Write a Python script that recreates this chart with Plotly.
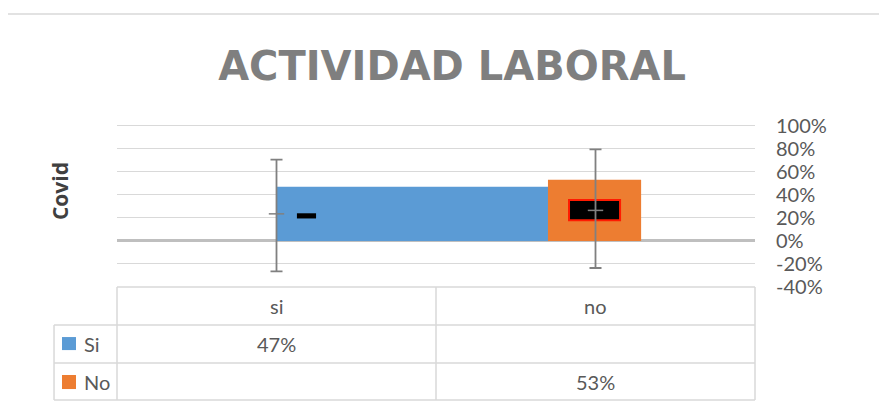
import plotly.graph_objects as go

# Data
categories = ["si", "no"]
series_names = ["Si", "No"]
si_values = [47, None]
no_values = [None, 53]
series_colors = ["#5b9bd5", "#ed7d31"]

# error bars (centre, up, down), in %
err_center = [23.5, 26.5]
err_plus = [47, 53]
err_minus = [50, 50]

# rendering glitches visible inside the bars (base, length), in %
glitch_base = [19.5, 18]
glitch_len = [4.5, 17.5]

tick_vals = [-40, -20, 0, 20, 40, 60, 80, 100]
tick_text = [f"{v}%" for v in tick_vals]

grey_text = "#595959"
grid_col = "#d9d9d9"
FONT = "Lato, 'Open Sans', sans-serif"

xs = list(range(len(categories)))

fig = go.Figure()

# Si bar: starts at category centre, extends to the 'no' bar
fig.add_trace(go.Bar(
    x=xs, y=si_values, name=series_names[0], offset=0, width=0.853,
    marker=dict(color=series_colors[0], line=dict(width=0)), showlegend=False
))
fig.add_trace(go.Bar(
    x=xs, y=no_values, name=series_names[1], offset=-0.149, width=0.292,
    marker=dict(color=series_colors[1], line=dict(width=0)), showlegend=False
))

# glitch marks
fig.add_trace(go.Bar(
    x=[xs[0]], y=[glitch_len[0]], base=[glitch_base[0]], offset=0.064, width=0.06,
    marker=dict(color="black", line=dict(width=0)), showlegend=False, hoverinfo="skip"
))
fig.add_trace(go.Bar(
    x=[xs[1]], y=[glitch_len[1]], base=[glitch_base[1]], offset=-0.083, width=0.16,
    marker=dict(color="black", line=dict(color="#ff1a00", width=2)), showlegend=False, hoverinfo="skip"
))

# error bars
fig.add_trace(go.Scatter(
    x=xs, y=err_center, mode="markers", showlegend=False,
    marker=dict(symbol="line-ew", size=11, color="#808080", line=dict(color="#808080", width=1.5)),
    error_y=dict(type="data", symmetric=False, array=err_plus, arrayminus=err_minus,
                 color="#808080", thickness=1.8, width=6)
))

shapes = []
# chart area border
shapes.append(dict(type="rect", xref="paper", yref="paper", x0=-0.1755, x1=1.5, y0=-1.0, y1=1.675,
                   line=dict(color=grid_col, width=1.5), layer="below"))

# data table grid (paper coords: plot area spans 0..1 horizontally)
left_col = -0.0987
row_lines = [0, -0.233, -0.466, -0.693]
for i, yv in enumerate(row_lines):
    x0 = 0 if i == 0 else left_col
    shapes.append(dict(type="line", xref="paper", yref="paper", x0=x0, x1=1, y0=yv, y1=yv,
                       line=dict(color=grid_col, width=1.5)))
for xv in [0, 0.5, 1]:
    shapes.append(dict(type="line", xref="paper", yref="paper", x0=xv, x1=xv, y0=0, y1=row_lines[-1],
                       line=dict(color=grid_col, width=1.5)))
shapes.append(dict(type="line", xref="paper", yref="paper", x0=left_col, x1=left_col,
                   y0=row_lines[1], y1=row_lines[-1], line=dict(color=grid_col, width=1.5)))

# legend keys in the table
key_rows = [(-0.307, -0.387), (-0.540, -0.626)]
for (ya, yb), col in zip(key_rows, series_colors):
    shapes.append(dict(type="rect", xref="paper", yref="paper", x0=-0.0862, x1=-0.0643, y0=yb, y1=ya,
                       fillcolor=col, line=dict(width=0)))

annotations = []
header_y = -0.1166
row_y = [-0.350, -0.580]
for x, c in zip(xs, categories):
    annotations.append(dict(x=x, y=header_y, xref="x", yref="paper", text=c, showarrow=False,
                            xanchor="center", yanchor="middle",
                            font=dict(family=FONT, size=20, color=grey_text)))
for r, (name, vals) in enumerate(zip(series_names, [si_values, no_values])):
    annotations.append(dict(x=-0.0549, y=row_y[r], xref="paper", yref="paper", text=name,
                            showarrow=False, xanchor="left", yanchor="middle",
                            font=dict(family=FONT, size=20, color=grey_text)))
    for x, v in zip(xs, vals):
        if v is not None:
            annotations.append(dict(x=x, y=row_y[r], xref="x", yref="paper", text=f"{v}%",
                                    showarrow=False, xanchor="center", yanchor="middle",
                                    font=dict(family=FONT, size=20, color=grey_text)))

# y axis title on the left
annotations.append(dict(x=-0.0893, y=0.589, xref="paper", yref="paper", text="<b>Covid</b>",
                        textangle=-90, showarrow=False, xanchor="center", yanchor="middle",
                        font=dict(family="Open Sans", size=21, color="#404040")))

# the page body has an 8px margin, so the plot area is shifted back by 8px
fig.update_layout(
    width=887, height=406,
    margin=dict(l=109, r=140, t=116, b=127),
    paper_bgcolor="white", plot_bgcolor="white",
    barmode="overlay",
    title=dict(text="<b>ACTIVIDAD LABORAL</b>", xref="container", yref="container",
               x=0.5006, y=0.857, xanchor="center", yanchor="middle",
               font=dict(family="DejaVu Sans", size=40, color="#7f7f7f")),
    shapes=shapes, annotations=annotations,
    showlegend=False,
)
fig.update_xaxes(range=[-0.5, 1.5], showticklabels=False, showgrid=False, zeroline=False,
                 showline=False, fixedrange=True)
fig.update_yaxes(range=[-40, 101.5], side="right", tickvals=tick_vals, ticktext=tick_text,
                 showgrid=True, gridcolor=grid_col, gridwidth=1.3,
                 zeroline=True, zerolinecolor="#bfbfbf", zerolinewidth=3,
                 showline=False, ticks="", ticklabelstandoff=20,
                 tickfont=dict(family=FONT, size=20, color=grey_text))

fig.write_html("out.html")
